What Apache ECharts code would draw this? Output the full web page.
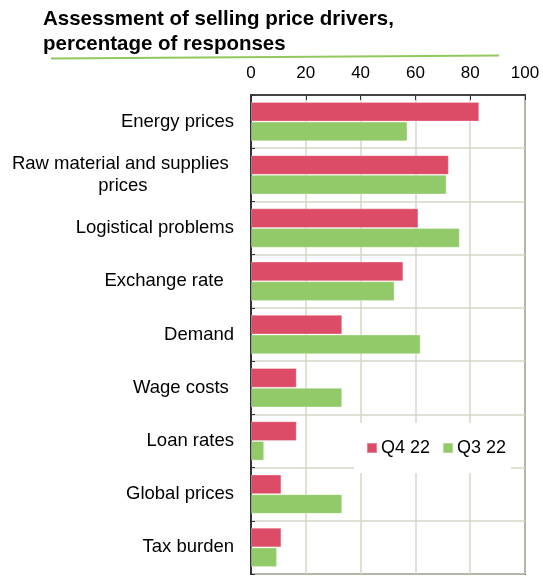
<!DOCTYPE html>
<html>
<head>
<meta charset="utf-8">
<script src="https://cdn.jsdelivr.net/npm/echarts@6/dist/echarts.min.js"></script>
<style>html,body{margin:0;padding:0;background:#fff}#c{width:543px;height:576px}</style>
</head>
<body>
<div id="c"></div>
<script>
const categories = ['Energy prices', 'Raw material and supplies \nprices', 'Logistical problems', 'Exchange rate  ', 'Demand', 'Wage costs ', 'Loan rates', 'Global prices', 'Tax burden'];
const q4 = [83.3, 72.2, 61.1, 55.6, 33.3, 16.7, 16.7, 11.1, 11.1];
const q3 = [57.1, 71.4, 76.2, 52.4, 61.9, 33.3, 4.8, 33.3, 9.5];
const seriesNames = ['Q4 22', 'Q3 22'];
const xTicks = [0, 20, 40, 60, 80, 100];

const FONT = '"Liberation Sans", Arial, sans-serif';
const RED = '#DC4C66';
const GREEN = '#92CA6A';
const GRID = '#d6d6c6';

const chart = echarts.init(document.getElementById('c'), null, {renderer: 'canvas'});
chart.setOption({
  animation: false,
  textStyle: {fontFamily: FONT},
  title: {
    text: 'Assessment of selling price drivers,\npercentage of responses',
    left: 43, top: 7, padding: 0,
    textStyle: {fontFamily: FONT, fontSize: 20.5, fontWeight: 'bold', color: '#000', lineHeight: 25}
  },
  graphic: [{
    type: 'line', z: 10,
    shape: {x1: 51, y1: 58.5, x2: 499, y2: 55.5},
    style: {stroke: '#92c95e', lineWidth: 2}
  }],
  legend: {
    data: seriesNames,
    left: 354, top: 423,
    padding: [16, 5, 16, 12],
    backgroundColor: '#fff',
    itemWidth: 10, itemHeight: 10, itemGap: 12,
    icon: 'rect',
    textStyle: {fontFamily: FONT, fontSize: 18, color: '#000', padding: [0, 0, 0, -1]}
  },
  grid: {left: 251, right: 18, top: 95, bottom: 2, show: true, borderColor: '#555', borderWidth: 2, backgroundColor: 'transparent'},
  xAxis: {
    type: 'value', position: 'top', min: 0, max: 100, interval: 20,
    axisLine: {show: true, lineStyle: {color: '#444', width: 2}},
    axisTick: {show: true, inside: true, length: 5, lineStyle: {color: '#333'}},
    axisLabel: {fontFamily: FONT, fontSize: 17, color: '#000', margin: 13,
      formatter: v => xTicks.includes(v) ? String(v) : ''},
    splitLine: {show: true, lineStyle: {color: GRID, width: 1.5}}
  },
  yAxis: {
    type: 'category', data: categories, inverse: true,
    axisLine: {show: true, lineStyle: {color: '#333', width: 2}},
    axisTick: {show: true, inside: true, length: 4, lineStyle: {color: '#333'}},
    splitLine: {show: true, lineStyle: {color: GRID, width: 1.5}},
    axisLabel: {
      margin: 17, color: '#000',
      formatter: v => v.split('\n').map(s => '{c|' + s + '}').join('\n'),
      rich: {c: {fontFamily: FONT, fontSize: 18.5, lineHeight: 22, align: 'center', color: '#000'}}
    }
  },
  series: [
    {name: seriesNames[0], type: 'bar', data: q4, barGap: '0%', barCategoryGap: '26%',
     itemStyle: {color: RED, borderColor: 'rgba(255,255,255,0.3)', borderWidth: 1}},
    {name: seriesNames[1], type: 'bar', data: q3, barGap: '0%', barCategoryGap: '26%',
     itemStyle: {color: GREEN, borderColor: 'rgba(255,255,255,0.3)', borderWidth: 1}}
  ]
});
</script>
</body>
</html>
